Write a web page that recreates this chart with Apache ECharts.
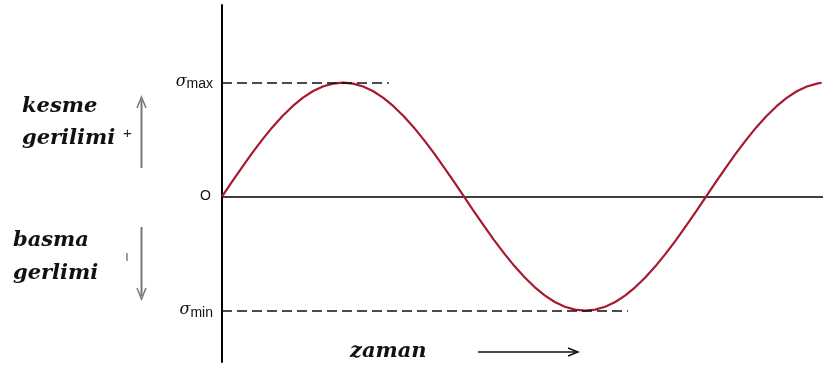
<!DOCTYPE html>
<html><head><meta charset="utf-8">
<script src="https://cdn.jsdelivr.net/npm/echarts@6/dist/echarts.min.js"></script>
<style>html,body{margin:0;padding:0;background:#fff}#c{width:823px;height:367px}</style>
</head><body><div id="c"></div>
<script>
// phase angle (degrees) along the time axis and stress
const phase = [0,7.5,15,22.5,30,37.5,45,52.5,60,67.5,75,82.5,90,97.5,105,112.5,120,127.5,135,142.5,150,157.5,165,172.5,180,
  187.5,195,202.5,210,217.5,225,232.5,240,247.5,255,262.5,270,277.5,285,292.5,300,307.5,315,322.5,330,337.5,345,352.5,360,
  367.5,375,382.5,390,397.5,405,412.5,420,427.5,435,442.5,446];
const stress = [0,0.131,0.259,0.383,0.5,0.609,0.707,0.793,0.866,0.924,0.966,0.991,1,0.991,0.966,0.924,0.866,0.793,0.707,0.609,0.5,0.383,0.259,0.131,0,
  -0.131,-0.259,-0.383,-0.5,-0.609,-0.707,-0.793,-0.866,-0.924,-0.966,-0.991,-1,-0.991,-0.966,-0.924,-0.866,-0.793,-0.707,-0.609,-0.5,-0.383,-0.259,-0.131,0,
  0.131,0.259,0.383,0.5,0.609,0.707,0.793,0.866,0.924,0.966,0.991,0.998];
// reference levels and the phase where each dashed guide ends
const levelValues = [1, -1];
const levelEnds = [124, 302];
const tickValues = [1, 0, -1];
const tickNames = ['max', 'O', 'min'];

const chart = echarts.init(document.getElementById('c'), null, {renderer:'canvas'});
const data = phase.map((p,i)=>[p, stress[i]]);
const markData = levelValues.map((v,i)=>[{coord:[0,v]},{coord:[levelEnds[i],v]}]);
const serifB = '"DejaVu Serif", "Liberation Serif", serif';
chart.setOption({
  animation:false,
  grid:{left:222,right:0,top:5,bottom:5},
  xAxis:{type:'value',min:0,max:447,
    axisLine:{onZero:true,lineStyle:{color:'#000',width:1.5}},
    axisTick:{show:false},axisLabel:{show:false},splitLine:{show:false}},
  yAxis:{type:'value',min:-1.45,max:1.68,
    axisLine:{onZero:false,lineStyle:{color:'#000',width:2}},
    axisTick:{show:false},splitLine:{show:false},
    axisLabel:{customValues:tickValues,margin:9,
      formatter:function(v){
        const i = tickValues.indexOf(v);
        if(i<0) return '';
        if(v===0) return '{o|'+tickNames[i]+'}';
        return '{s|σ}{sub|'+tickNames[i]+'}';
      },
      rich:{
        s:{fontFamily:'"DejaVu Serif", serif',fontStyle:'italic',fontSize:16,color:'#111',verticalAlign:'top',lineHeight:18},
        sub:{fontFamily:'"Liberation Sans", Arial, sans-serif',fontSize:14,color:'#111',verticalAlign:'bottom',lineHeight:18},
        o:{fontFamily:'"Liberation Sans", Arial, sans-serif',fontSize:14,color:'#111',padding:[0,2,0,0]}
      }}},
  series:[{type:'line',data:data,smooth:false,symbol:'none',
    lineStyle:{color:'#a8192f',width:2.2,join:'round'},
    markLine:{silent:true,symbol:'none',label:{show:false},
      lineStyle:{color:'#111',type:[10,5],width:1.5},data:markData}}],
  graphic:[
    {type:'text',left:22,top:96,style:{text:'kesme',font:'italic bold 21px '+serifB,fill:'#111'}},
    {type:'text',left:22,top:128,style:{text:'gerilimi',font:'italic bold 21px '+serifB,fill:'#111'}},
    {type:'text',left:123,top:126,style:{text:'+',font:'15px "Liberation Sans", sans-serif',fill:'#222'}},
    {type:'text',left:13,top:230,style:{text:'basma',font:'italic bold 21px '+serifB,fill:'#111'}},
    {type:'text',left:13,top:263,style:{text:'gerlimi',font:'italic bold 21px '+serifB,fill:'#111'}},
    {type:'text',left:125,top:250,style:{text:'ı',font:'14px "Liberation Sans", sans-serif',fill:'#666'}},
    {type:'text',left:350,top:341,style:{text:'zaman',font:'italic bold 21px '+serifB,fill:'#111'}},
    {type:'line',shape:{x1:141.5,y1:100,x2:141.5,y2:168},style:{stroke:'#777',lineWidth:2}},
    {type:'polyline',shape:{points:[[137,108],[141.5,97],[146,108]]},style:{stroke:'#777',lineWidth:1.5,fill:null}},
    {type:'line',shape:{x1:141.5,y1:227,x2:141.5,y2:296},style:{stroke:'#777',lineWidth:2}},
    {type:'polyline',shape:{points:[[137,288],[141.5,299],[146,288]]},style:{stroke:'#777',lineWidth:1.5,fill:null}},
    {type:'line',shape:{x1:478,y1:352,x2:577,y2:352},style:{stroke:'#111',lineWidth:1.5}},
    {type:'polyline',shape:{points:[[568,348],[578,352],[568,356]]},style:{stroke:'#111',lineWidth:1.5,fill:null}}
  ]
});
</script></body></html>
